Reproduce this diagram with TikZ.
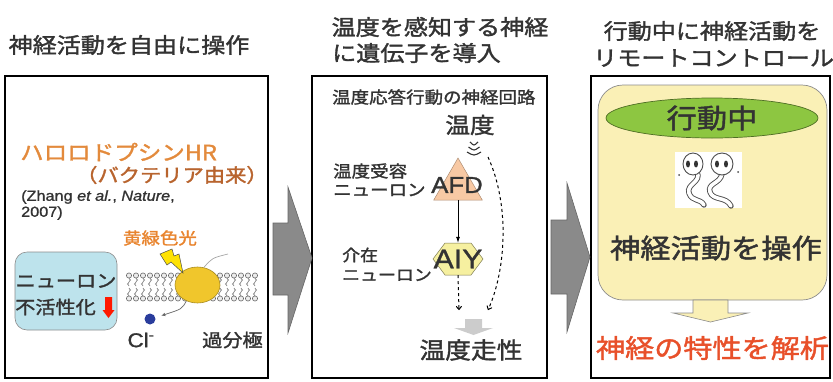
\documentclass[tikz,border=0pt]{standalone}
\usepackage{fontspec}
\setmainfont{Noto Sans CJK JP}[FakeStretch=1.12,FakeBold=1.6]
\newfontfamily\latinfont{Liberation Sans}[FakeStretch=1.12,FakeBold=1.2]
\usepackage{tikz}
\usetikzlibrary{positioning,shapes.geometric,arrows.meta}
\usepackage{xcolor}

\newcommand{\fsz}[1]{\fontsize{#1}{#1}\selectfont}

\definecolor{ink}{HTML}{333333}
\definecolor{hrorange}{HTML}{E38A3C}
\definecolor{hrbrown}{HTML}{B8642E}
\definecolor{lightorange}{HTML}{E8842E}
\definecolor{redtext}{HTML}{E8502A}
\definecolor{cellblue}{HTML}{BDE3EC}
\definecolor{protein}{HTML}{F0C62C}
\definecolor{ionblue}{HTML}{2A3C9C}
\definecolor{afdpeach}{HTML}{F8C9A4}
\definecolor{aiyyellow}{HTML}{F6F0A0}
\definecolor{paleyellow}{HTML}{FAF0B6}
\definecolor{leafgreen}{HTML}{8DC641}
\definecolor{arrowgray}{HTML}{8A8A8A}

\begin{document}
\begin{tikzpicture}[x=1pt,y=-1pt,
          every node/.style={inner sep=0pt,text=ink},
          title/.style={font=\fsz{21.5}},
          panel/.style={draw=black,line width=2.2pt},
          bigarrow/.style={fill=arrowgray,draw=black!60,line width=0.6pt},
          neuronbox/.style={rectangle,rounded corners=12pt,draw=black!45,fill=cellblue,line width=0.6pt,minimum width=102pt,minimum height=78pt},
          hrprotein/.style={ellipse,draw=protein!70!black,fill=protein,line width=0.6pt,minimum width=45pt,minimum height=36pt},
          ion/.style={circle,fill=ionblue,minimum size=11pt},
          afdshape/.style={regular polygon,regular polygon sides=3,minimum size=56pt,draw=afdpeach!70!black,fill=afdpeach,line width=0.5pt},
          ctrlbox/.style={rectangle,rounded corners=25pt,draw=black!45,fill=paleyellow,line width=0.7pt,minimum width=229pt,minimum height=215pt},
          moving/.style={ellipse,draw=leafgreen!55!black,fill=leafgreen,line width=0.7pt,minimum width=212pt,minimum height=40pt,font=\fsz{27}},
          worm/.style={draw=black!70,double=white,double distance=3.6pt,line width=0.9pt,line cap=round},
          solidarr/.style={-{Latex[length=6pt,width=4pt]},line width=0.8pt,black},
          dasharr/.style={-{To[length=4pt,width=6pt]},dashed,line width=1pt,black},
        ]
        \useasboundingbox (0,0) rectangle (833,381);

        % headings
        \node[title] (t1) at (129,45) {神経活動を自由に操作};
        \node[title] (t2a) at (440,27) {温度を感知する神経};
        \node[title,anchor=west] (t2b) at (332,53) {に遺伝子を導入};
        \node[title] (t3a) at (712,31) {行動中に神経活動を};
        \node[title,anchor=west] (t3b) at (593,58) {リモートコントロール};

        \draw[panel] (5,76) rectangle (268,378);
        \draw[panel] (312,76) rectangle (547,378);
        \draw[panel] (591,76) rectangle (830,378);

        \draw[bigarrow] (273,223) -- (288,223) -- (288,187) -- (312,258) -- (288,333) -- (288,295) -- (273,295) -- cycle;
        \draw[bigarrow] (551,220) -- (567,220) -- (567,183) -- (590,257) -- (567,332) -- (567,294) -- (551,294) -- cycle;

        % halorhodopsin
        \node[font=\fsz{21},text=hrorange,anchor=west] (hr) at (20,152) {ハロロドプシンHR};
        \node[font=\fsz{19},text=hrbrown,anchor=west] (origin) at (76,175) {（バクテリア由来）};
        \node[font=\latinfont\fsz{14.5},anchor=west] (cite) at (21,197) {(Zhang \textit{et al.}, \textit{Nature},};
        \node[font=\latinfont\fsz{14.5},anchor=west] (year) at (21,213) {2007)};
        \node[font=\fsz{16.5},text=lightorange] (light) at (160,238) {黄緑色光};

        \node[neuronbox] (neuron) at (66,291) {};
        \node[font=\fsz{18}] (nlabel) at (66,281) {ニューロン};
        \node[font=\fsz{18},anchor=west] (inact) at (15,307) {不活性化};
        \fill[red!80!orange] (105,297) -- (112,297) -- (112,310) -- (114.5,310) -- (108.5,318) -- (102.5,310) -- (105,310) -- cycle;

        \foreach \x in {129,136,...,258} {
          \draw[black!55,line width=0.6pt] (\x,278) sin ++(1.6,2) cos ++(-1.6,2) sin ++(-1.6,2) cos ++(1.6,2);
          \draw[black!55,line width=0.6pt] (\x,288) sin ++(1.6,2) cos ++(-1.6,2) sin ++(-1.6,2) cos ++(1.6,2);
          \draw[black!60,fill=gray!15,line width=0.6pt] (\x,275.5) circle (2.6pt);
          \draw[black!60,fill=gray!15,line width=0.6pt] (\x,298.5) circle (2.6pt);
        }
        \node[hrprotein] (hrp) at (197.5,285) {};
        \draw[black!70,fill=yellow!85!orange,line width=0.5pt] (160,254) -- (172,249) -- (174,256) -- (179,254) -- (183,273) -- (171,262) -- (167,265) -- cycle;
        \draw[gray!70,line width=0.7pt] (hrp.70) .. controls (212,258) .. (228,254);
        \node[ion] (cl) at (150,319) {};
        \draw[black!60,line width=0.7pt,-{Latex[length=4pt,width=3.5pt]},shorten >=6pt] (hrp.235) .. controls (182,309) .. (cl.15);
        \node[font=\latinfont\fsz{20}] (cllab) at (141,340) {Cl\textsuperscript{-}};
        \node[font=\fsz{18},anchor=west] (hyper) at (202,340) {過分極};

        % thermotaxis circuit
        \node[font=\fsz{16.5},anchor=west] (circ) at (332,97) {温度応答行動の神経回路};
        \node[font=\fsz{22}] (temp) at (470,125) {温度};
        \foreach \y/\w in {143/4,148/5.5,153/7}
          \draw[black!80,line width=1.1pt] (474-\w,\y-1) .. controls (474,\y+3) .. (474+\w,\y-1);
        \coordinate (wavesrc) at (488,157);

        \node[afdshape] (afdtri) at (458,186) {};
        \node[font=\latinfont\fsz{23}] (afd) at (457,185) {AFD};
        \node[font=\fsz{16.5},anchor=west] (afdl1) at (333,171) {温度受容};
        \node[font=\fsz{16.5},anchor=west] (afdl2) at (333,190) {ニューロン};

        \draw[draw=aiyyellow!50!black,fill=aiyyellow,line width=0.5pt] (445,243) -- (471,243) -- (483,259) -- (471,275) -- (445,275) -- (433,259) -- cycle;
        \node[font=\latinfont\fsz{27},minimum height=32pt] (aiy) at (458,259) {AIY};
        \node[font=\fsz{16},anchor=west] (aiyl1) at (342,255) {介在};
        \node[font=\fsz{16},anchor=west] (aiyl2) at (342,275) {ニューロン};

        \coordinate (endL) at (459,310);
        \coordinate (endR) at (488,310);
        \draw[solidarr] (afdtri.south) -- (aiy.north);
        \draw[dasharr] (aiy.south) -- (endL);
        \draw[dasharr] (wavesrc) .. controls (510,205) and (506,270) .. (endR);

        \fill[gray!40] (465,319) -- (482,319) -- (482,328) -- (493,328) -- (473.5,335) -- (454,328) -- (465,328) -- cycle;
        \node[font=\fsz{23}] (taxis) at (471,350) {温度走性};

        % remote control while moving
        \node[ctrlbox] (ctrl) at (712.5,192.5) {};
        \node[moving] (move) at (712,118) {行動中};
        \node[rectangle,fill=white,minimum width=67pt,minimum height=56pt] (worms) at (708.5,180) {};
        \draw[worm] (697,172) .. controls (702,182) and (686,184) .. (689,193) .. controls (692,202) and (700,198) .. (704,205);
        \draw[worm] (722,174) .. controls (720,184) and (707,183) .. (710,192) .. controls (713,201) and (726,196) .. (731,206);
        \draw[black!70,fill=white,line width=0.9pt] (693,164) ellipse [x radius=10pt,y radius=11pt];
        \draw[black!70,fill=white,line width=0.9pt] (722,164) ellipse [x radius=11pt,y radius=11pt];
        \foreach \ex in {688,696,717,726}
          \fill[black!80] (\ex,164) ellipse [x radius=2pt,y radius=3.5pt];
        \fill[black!70] (679,175) circle (1pt);
        \fill[black!70] (738,172) circle (1pt);
        \node[font=\fsz{27}] (ops) at (716,248) {神経活動を操作};

        \draw[draw=black!45,fill=paleyellow,line width=0.6pt] (693,300) -- (728,300) -- (728,313) -- (748,313) -- (710.5,322) -- (673,313) -- (693,313) -- cycle;
        \node[font=\fsz{26},text=redtext] (analyse) at (712.5,348) {神経の特性を解析};
      \end{tikzpicture}
\end{document}
